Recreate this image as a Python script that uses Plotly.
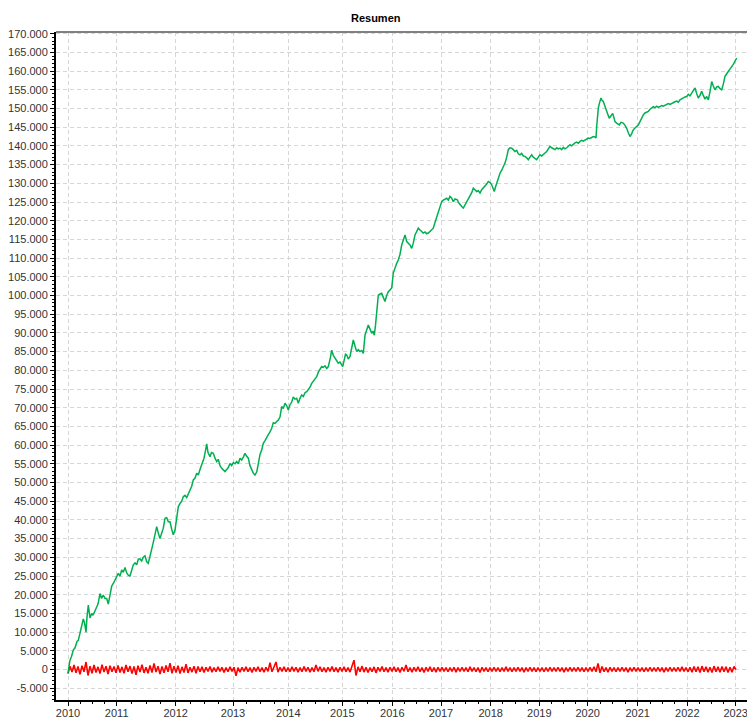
import plotly.graph_objects as go

# ---------------- data ----------------
# x axis = sequential position of the sample (trading sequence); years are irregularly spaced
year_labels = ["2010", "2011", "2012", "2013", "2014", "2015", "2016",
               "2017", "2018", "2019", "2020", "2021", "2022", "2023"]
year_pos = [0, 48.7, 107.7, 165, 220.3, 274.3, 324.3, 373, 422.7, 471.3,
            519.7, 569.7, 619.3, 667.7]

y_tick_vals = [-5000, 0, 5000, 10000, 15000, 20000, 25000, 30000, 35000, 40000,
               45000, 50000, 55000, 60000, 65000, 70000, 75000, 80000, 85000,
               90000, 95000, 100000, 105000, 110000, 115000, 120000, 125000,
               130000, 135000, 140000, 145000, 150000, 155000, 160000, 165000, 170000]
y_tick_text = ["-5.000", "0", "5.000", "10.000", "15.000", "20.000", "25.000",
               "30.000", "35.000", "40.000", "45.000", "50.000", "55.000",
               "60.000", "65.000", "70.000", "75.000", "80.000", "85.000",
               "90.000", "95.000", "100.000", "105.000", "110.000", "115.000",
               "120.000", "125.000", "130.000", "135.000", "140.000", "145.000",
               "150.000", "155.000", "160.000", "165.000", "170.000"]

# cumulative equity (green)
green_x = [0, 1, 2, 3.5, 5.3, 7, 9, 10.3, 12, 13.7, 15.3, 16.5, 18, 19, 20.3, 22, 23.7, 25, 27, 28.7,
           30, 32, 33.5, 35.3, 37, 38.7, 40.3, 42, 43.7, 45.3, 47, 48.7, 50.3, 52, 53.7, 55.3, 57, 58.7,
           60.3, 62, 63.5, 65.3, 67, 68.7, 70.3, 72, 73.7, 75.3, 77, 78.7, 80.3, 82, 83.7, 85.3, 87,
           88.7, 90.3, 92, 93.7, 95.3, 97, 98.7, 100.3, 102, 103.7, 105.3, 107, 108.7, 110.3, 112,
           113.7, 115.3, 117, 118.7, 120.3, 122, 123.7, 125.3, 127, 128.7, 130.3, 132, 133.5, 134.7,
           136, 137.5, 138.7, 140, 141, 142, 143.5, 145.3, 147, 148.7, 150.3, 152, 153.7, 155.3, 157,
           158.7, 160.3, 162, 163.7, 165.3, 167, 168.7, 170.3, 172, 173.7, 175.3, 177, 178.7, 180.3,
           182, 183.7, 185.3, 187, 188.7, 190.3, 192, 193.7, 195.3, 197, 198.7, 200.3, 202, 203.7,
           205.3, 207, 208.7, 210.3, 212, 213.7, 215.3, 217, 218.7, 220.3, 222, 223.7, 225.3, 227,
           228.7, 230.3, 232, 233.7, 235.3, 237, 238.7, 240.3, 242, 243.7, 245.3, 247, 248.7, 250.3,
           252, 253.7, 255.3, 257, 258.7, 260.3, 262.5, 263.7, 265.3, 267, 268.7, 270.3, 272, 273.5,
           274.7, 276, 277.5, 278.7, 280.3, 282, 283.7, 285.3, 287, 288.7, 290.3, 292, 293.7, 295.3,
           297, 298.7, 300.3, 302, 303.7, 305, 306.3, 307.5, 308.7, 310.3, 312, 313.7, 315.3, 317,
           318.7, 320.3, 322, 323.7, 325.3, 327, 328.7, 330.3, 332, 333.7, 335.3, 337, 338.7, 340.3,
           342, 343.7, 345.3, 347, 348.7, 350.3, 352, 353.7, 355.3, 357, 358.7, 360.3, 362, 363.7,
           365.3, 367, 368.7, 370.3, 372, 373.7, 375.3, 377, 378.7, 380.3, 382, 383.7, 385.3, 387,
           389.3, 390.7, 392, 393.7, 395.3, 397, 398.7, 400.3, 402, 403.7, 405.3, 407, 408.7, 410.3,
           412, 413.7, 415.3, 417, 418.7, 420.3, 422, 423.7, 425, 426.3, 427.5, 428.7, 430.3, 432,
           433.7, 435.3, 437, 438.7, 440.3, 442, 443.7, 445.3, 447, 448.7, 450.3, 452, 453.7, 455.3,
           457, 458.7, 460.3, 462, 463.7, 465.3, 467, 468.7, 470.3, 472, 473.7, 475.3, 477, 478.7,
           480.3, 482, 483.7, 485.3, 487, 488.7, 490.3, 492, 493.7, 495.3, 497, 498.7, 500.3, 502,
           503.7, 505.3, 507, 508.7, 510.3, 512, 513.7, 515.3, 517, 518.7, 520.3, 522, 523.7, 525.3,
           527, 528, 528.7, 529.5, 530.3, 531.5, 533, 534, 535.3, 536.7, 538, 539.7, 541.3, 543,
           544.7, 546, 547, 549, 551.3, 553, 555.3, 557, 558.7, 560.3, 562, 563.7, 565.3, 567, 568.7,
           570.3, 572, 573.7, 575.3, 577, 578.7, 580.3, 582, 583.7, 585.3, 587, 588.7, 590.3, 592,
           593.7, 595.3, 597, 598.7, 600.3, 602, 603.7, 605.3, 607, 608.7, 610.3, 612, 613.7, 615.3,
           617, 618.7, 620.3, 622, 623.7, 625.3, 627, 628.7, 630.3, 632, 633.7, 635.3, 637, 638.7,
           640.3, 642, 643.7, 645.3, 647, 648.7, 650.3, 652, 653.7, 655.3, 657, 658.7, 660.3, 662,
           663.7, 665.3, 667, 668.7]
green_y = [-1000, 500, 2500, 3500, 5200, 5800, 7500, 7800, 9500, 11400, 13500, 12500, 10000, 14000,
           17200, 13800, 15000, 14500, 15500, 16700, 17500, 20300, 19000, 19900, 19000, 19000, 17500,
           19500, 22300, 23000, 24000, 24800, 25700, 25000, 26600, 26000, 27300, 25800, 25200, 25000,
           26500, 28000, 28500, 28000, 29500, 29600, 29000, 30000, 30400, 28800, 28400, 30000, 32200,
           34000, 36500, 38200, 36500, 35000, 36500, 37800, 40400, 40600, 39500, 39500, 37500, 36000,
           37300, 40800, 43500, 44400, 45000, 46200, 46600, 46000, 47100, 47800, 49000, 50700, 51200,
           52500, 52000, 53500, 54500, 55100, 56500, 58500, 60300, 58000, 57200, 56900, 58000, 57800,
           56500, 55600, 56200, 54500, 53800, 53300, 52900, 53500, 54000, 55100, 54500, 55300, 55000,
           55600, 55000, 56500, 56000, 56800, 57800, 57000, 56500, 54500, 53300, 52500, 52000, 52800,
           55000, 57500, 58700, 60500, 61200, 62200, 62800, 63500, 64500, 66000, 65800, 66300, 66700,
           67500, 70300, 69800, 71200, 70500, 69400, 70800, 71500, 72900, 72300, 72500, 71200, 72500,
           73400, 73000, 74000, 74300, 74800, 75500, 76500, 77000, 77800, 78300, 79500, 80200, 81000,
           80800, 81200, 80500, 81000, 83500, 85400, 84000, 83200, 82500, 81900, 82200, 81400, 81000,
           82500, 84300, 84100, 83000, 83700, 86000, 88100, 86500, 85000, 85500, 85000, 85300, 84500,
           89400, 91000, 92100, 91000, 89900, 90500, 89400, 92000, 95200, 100100, 100400, 100600,
           99500, 98400, 100000, 101000, 101500, 102000, 106000, 107500, 108600, 109500, 111000,
           113500, 114900, 116200, 114400, 114000, 113500, 112600, 114000, 116200, 117000, 118000,
           117500, 117000, 116700, 117000, 116500, 116700, 117200, 117500, 118000, 119500, 121100,
           122500, 124000, 125100, 125500, 125800, 126000, 125500, 126500, 126000, 125100, 125800,
           125600, 124800, 124200, 123800, 123400, 124200, 125100, 125800, 126500, 127500, 128700,
           128200, 127800, 128000, 127400, 128300, 128800, 129100, 129800, 130500, 130200, 129600,
           128500, 127800, 129000, 130000, 131200, 132700, 133500, 134500, 135400, 137000, 139000,
           139500, 139400, 139000, 138500, 138800, 137900, 137600, 138000, 137300, 137200, 136800,
           136300, 137000, 137600, 137000, 136700, 136300, 137000, 137600, 137300, 137800, 138100,
           138500, 139300, 139900, 139500, 139200, 139000, 139500, 139200, 139400, 139000, 139600,
           139200, 139500, 140000, 140300, 140000, 140500, 140800, 141000, 140700, 141200, 141500,
           141300, 141600, 141800, 142100, 142000, 142300, 142500, 142400, 142100, 145200, 148000,
           150100, 151500, 152800, 152200, 151900, 150800, 149600, 148500, 147400, 148000, 148700,
           147500, 146500, 146000, 145600, 146300, 146100, 145500, 144700, 143500, 142500, 143300,
           144300, 144800, 145200, 145600, 146500, 147500, 148300, 148800, 149000, 149200, 149800,
           150300, 150500, 150200, 150600, 150300, 150500, 150800, 150600, 150900, 151000, 151300,
           151100, 151400, 151500, 151800, 152000, 151700, 152300, 152600, 152900, 153100, 153200,
           153800, 153400, 154200, 154600, 155500, 154000, 152800, 153500, 154600, 153500, 152500,
           153200, 152300, 154500, 157200, 156000, 155000, 155800, 155900, 155300, 155000, 156500,
           158600, 159300, 160000, 160800, 161200, 161800, 162600, 163500]

# per-period result (red), one value every 2 positions
red_x = list(range(0, 669, 2))
red_y = [
    # 2010
    -1100, 900, -700, 1200, -900, 800, -1300, 1000, -600, 2000, -1600, 900, -1000, 1200, -800, 700,
    -1100, 1300, -700, 900, -1200, 1000, -600, 800, -900,
    # 2011
    1100, -800, 700, -1000, 1200, -600, 900, -1100, 800, -1400, 1000, -700, 1300, -900, 600, -1000,
    1100, -800, 1600, -700, 900, -1200, 800, -900, 1100, -600, 1700, -1000, 900, -800,
    # 2012
    1000, -1100, 700, -800, 1400, -900, 600, -700, 900, -1000, 800, -600, 700, -800, 600, -500,
    800, -700, 500, -600, 700, -500, 600, -800, 500, -600, 700, -500,
    # 2013
    600, -1700, 500, -700, 600, -500, 700, -600, 500, -800, 600, -500, 700, -600, 500, -700,
    600, -500, 1800, -600, 500, 2000, -700, 600, -500, 700, -600, 500,
    # 2014
    -600, 700, -500, 600, -700, 500, -600, 800, -500, 600, -700, 500, -600, 1200, -500, 700,
    -600, 500, -700, 600, -500, 800, -600, 500, -700, 600, -500,
    # 2015
    700, -600, 500, -700, 800, 2500, -1600, 700, -600, 900, -700, 600, -800, 500, -600, 700,
    -900, 600, -500, 800, -600, 500, -700, 600, -500,
    # 2016
    700, -600, 500, -800, 600, -500, 1200, -600, 500, -700, 600, -500, 700, -600, 500, -800,
    600, -500, 700, -600, 500, -700, 600, -500,
    # 2017
    600, -500, 500, -600, 500, -500, 600, -700, 500, -500, 600, -500, 500, -600, 700, -500,
    500, -600, 500, -800, 600, -500, 500, -600, 500,
    # 2018
    -500, 600, -500, 500, -600, 500, -500, 700, -500, 500, -600, 500, -500, 600, -500, 500,
    -700, 500, -500, 600, -500, 500, -600, 500,
    # 2019
    -500, 500, -600, 500, -500, 600, -500, 500, -500, 600, -500, 500, -700, 500, -500, 600,
    -500, 500, -500, 600, -500, 500, -600, 500, -500,
    # 2020
    600, -500, 700, -600, 1600, -900, 800, -600, 500, -700, 600, -500, 500, -600, 500, -500,
    600, -500, 500, -700, 500, -500, 600, -500, 500,
    # 2021
    -500, 500, -600, 500, -500, 600, -500, 500, -500, 600, -500, 500, -700, 500, -500, 600,
    -500, 500, -500, 600, -500, 700, -500, 500, -600,
    # 2022
    600, -700, 800, -600, 700, -800, 900, -600, 700, -700, 600, -800, 900, -600, 700, -700,
    800, -600, 700, -800, 600, -700, 800, 0,
]

# quarter tick marks between years
quarter_ticks = []
for a, b in zip(year_pos[:-1], year_pos[1:]):
    for k in (1, 2, 3):
        quarter_ticks.append(a + (b - a) * k / 4)

# ---------------- figure ----------------
fig = go.Figure()
fig.add_trace(go.Scatter(x=red_x, y=red_y, mode="lines",
                         line=dict(color="#ff0000", width=1.6), hoverinfo="skip"))
fig.add_trace(go.Scatter(x=green_x, y=green_y, mode="lines",
                         line=dict(color="#00b050", width=1.5)))

grid_col = "#d6d6d6"
tick_font = dict(family="Liberation Sans, Arial, sans-serif", size=11, color="#333333")

fig.update_layout(
    width=747, height=718,
    margin=dict(l=56, r=0, t=32, b=18),
    paper_bgcolor="white", plot_bgcolor="white",
    showlegend=False,
    title=dict(text="<b>Resumen</b>", x=0.503, xref="container", xanchor="center",
               y=1 - 18 / 718, yref="container", yanchor="middle",
               font=dict(family="Liberation Sans, Arial, sans-serif", size=11, color="#000000")),
    xaxis=dict(range=[-12, 679], tickmode="array", tickvals=year_pos, ticktext=year_labels,
               ticks="outside", ticklen=4, tickcolor="#000000", tickwidth=1,
               showline=True, linecolor="#000000", linewidth=2,
               showgrid=True, gridcolor=grid_col, gridwidth=1, griddash="4px,3px",
               zeroline=False, tickfont=tick_font, automargin=False, ticklabelstandoff=-2,
               ticklabeloverflow="allow",
               minor=dict(tickvals=quarter_ticks, ticks="outside", ticklen=2,
                          tickcolor="#000000", showgrid=False)),
    yaxis=dict(range=[-8155, 170455], tickmode="array", tickvals=y_tick_vals, ticktext=y_tick_text,
               ticks="outside", ticklen=4, tickcolor="#000000", tickwidth=1,
               showline=True, linecolor="#000000", linewidth=2,
               showgrid=True, gridcolor=grid_col, gridwidth=1, griddash="4px,3px",
               zeroline=False, tickfont=tick_font, automargin=False,
               ticklabeloverflow="allow",
               minor=dict(tickmode="linear", tick0=0, dtick=1000, ticks="outside", ticklen=2,
                          tickcolor="#000000", showgrid=False)),
    shapes=[dict(type="line", xref="paper", yref="paper", x0=0, x1=1, y0=1, y1=1,
                 line=dict(color="#808080", width=2))],
)

fig.write_html("out.html", config={"displayModeBar": False},
               post_script="document.body.style.margin='0px';document.body.style.padding='0px';")
